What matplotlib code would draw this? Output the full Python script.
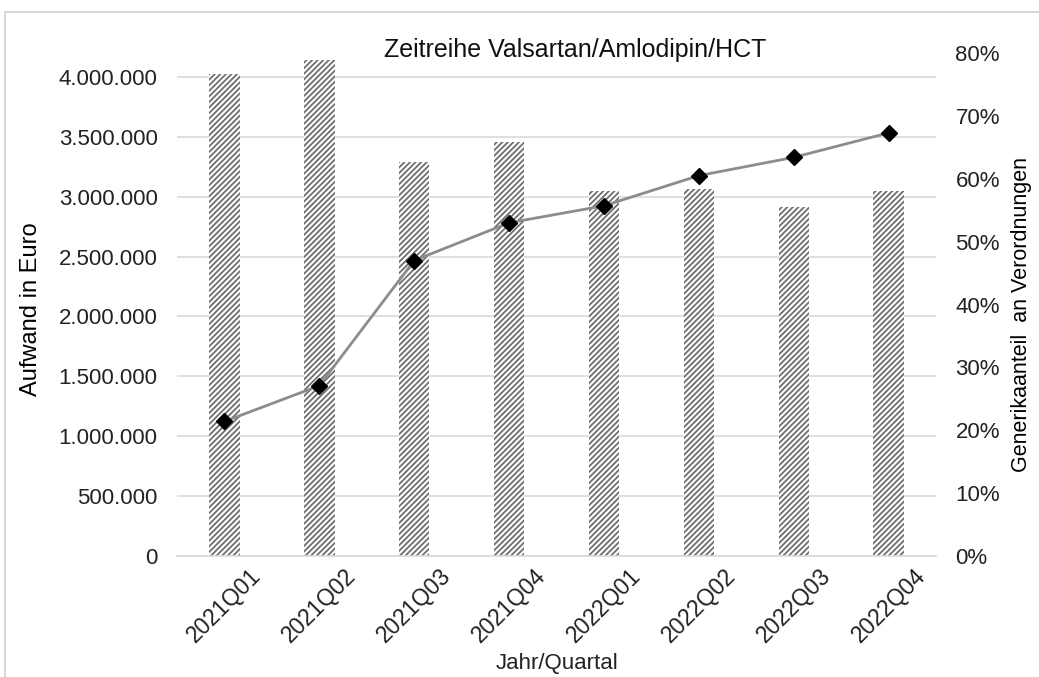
import matplotlib
matplotlib.use("Agg")
import matplotlib.pyplot as plt
from matplotlib.patches import Rectangle
from matplotlib.ticker import FuncFormatter, MultipleLocator

# Daten
quartale = ["2021Q01", "2021Q02", "2021Q03", "2021Q04",
            "2022Q01", "2022Q02", "2022Q03", "2022Q04"]
aufwand = [4028000, 4139000, 3294000, 3453000, 3050000, 3064000, 2911000, 3044000]
generikaanteil = [0.214, 0.271, 0.470, 0.530, 0.557, 0.605, 0.634, 0.673]

plt.rcParams['font.family'] = ['Liberation Sans', 'DejaVu Sans']
plt.rcParams['hatch.linewidth'] = 1.3
plt.rcParams['hatch.color'] = '#6e6e6e'

fig = plt.figure(figsize=(10.39, 6.77), dpi=100)
ax = fig.add_axes([0.1704, 0.1787, 0.7305, 0.743])
ax2 = ax.twinx()

x = list(range(len(quartale)))

# Balken (Aufwand)
ax.bar(x, aufwand, width=0.32, color='white', hatch='//////',
       edgecolor='#6e6e6e', linewidth=0, zorder=2)
ax.set_xlim(-0.5, len(quartale) - 0.5)
ax.set_ylim(0, 4200000)
ax.yaxis.set_major_locator(MultipleLocator(500000))
ax.yaxis.set_major_formatter(FuncFormatter(lambda v, p: f"{int(v):,}".replace(",", ".")))
ax.grid(axis='y', color='#d9d9d9', linewidth=1.2, zorder=0)
ax.set_axisbelow(True)

# Linie (Generikaanteil)
ax2.plot(x, generikaanteil, color='#8c8c8c', linewidth=2, marker='D',
         markersize=8, markerfacecolor='black', markeredgecolor='black', zorder=3)
ax2.set_ylim(0, 0.8)
ax2.yaxis.set_major_locator(MultipleLocator(0.1))
ax2.yaxis.set_major_formatter(FuncFormatter(lambda v, p: f"{v*100:.0f}%"))

for a in (ax, ax2):
    for s in a.spines.values():
        s.set_visible(False)
    a.tick_params(length=0, labelsize=16, colors='#222222')
ax.spines['bottom'].set_visible(True)
ax.spines['bottom'].set_color('#d9d9d9')
ax.spines['bottom'].set_linewidth(1.2)
ax.tick_params(axis='y', pad=14)
ax2.tick_params(axis='y', pad=14)

ax.set_xticks(x)
ax.set_xticklabels(quartale, rotation=45, ha='center', va='top', fontsize=16.5)
ax.tick_params(axis='x', pad=6)

ax.set_ylabel("Aufwand in Euro", fontsize=17)
ax.yaxis.set_label_coords(-0.178, 0.49)
ax2.set_ylabel("Generikaanteil  an Verordnungen", fontsize=15.5)
ax2.yaxis.set_label_coords(1.099, 0.48)

fig.text(0.554, 0.926, "Zeitreihe Valsartan/Amlodipin/HCT", fontsize=18,
         ha='center', va='center', color='#111111')
fig.text(0.536, 1 - 664 / 677, "Jahr/Quartal", fontsize=16,
         ha='center', va='center', color='#222222')

# Rahmen
fig.patches.append(Rectangle((5 / 1039, -0.1), 1.2, 1.1 - 12 / 677,
                             transform=fig.transFigure, fill=False,
                             edgecolor='#d0d0d0', linewidth=1.2))

fig.savefig("out.png", dpi=100)
